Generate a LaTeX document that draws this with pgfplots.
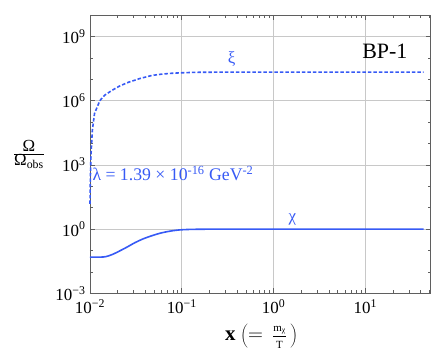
\documentclass[border=0pt]{standalone}
\usepackage{fontspec}
\setmainfont{Liberation Serif}
\usepackage{pgfplots}
\pgfplotsset{compat=1.18}
\usetikzlibrary{calc}
\definecolor{curveblue}{RGB}{55,90,245}
\definecolor{gridgray}{RGB}{200,200,200}
\definecolor{framegray}{RGB}{95,95,95}
\begin{document}
\begin{tikzpicture}
  \begin{axis}[
    name=ax,
    xmode=log, ymode=log,
    scale only axis,
    width=340.7bp, height=278.3bp,
    xmin=0.01, xmax=51.5,
    ymin=1e-3, ymax=1e10,
    xtick={0.01,0.1,1,10},
    xticklabels={10\textsuperscript{−2},10\textsuperscript{−1},10\textsuperscript{0},10\textsuperscript{1}},
    minor xtick={0.02,0.03,0.04,0.05,0.06,0.07,0.08,0.09,
                 0.2,0.3,0.4,0.5,0.6,0.7,0.8,0.9,
                 2,3,4,5,6,7,8,9,20,30,40,50},
    ytick={1e-3,1,1e3,1e6,1e9},
    yticklabels={10\textsuperscript{−3},10\textsuperscript{0},10\textsuperscript{3},10\textsuperscript{6},10\textsuperscript{9}},
    minor ytick={1e-2,1e-1,1e1,1e2,1e4,1e5,1e7,1e8},
    ticklabel style={font=\fontsize{17}{20}\selectfont},
    xticklabel style={yshift=-3bp},
    yticklabel style={xshift=-1bp},
    grid=major,
    major grid style={gridgray, line width=0.6bp},
    axis line style={framegray, line width=0.8bp},
    tick style={framegray, line width=0.6bp},
    major tick length=5bp,
    minor tick length=3bp,
    tick align=inside,
    clip=false,
  ]
    % xi (dashed)
    \addplot[curveblue, line width=1.6bp, dash pattern=on 3.5bp off 2bp] coordinates {
      (0.01,15) (0.0101,300) (0.01026,3000) (0.0106,4e4) (0.0112,2.5e5)
      (0.0128,1e6) (0.0145,1.8e6) (0.0173,3e6) (0.021,4.8e6) (0.0262,7.2e6)
      (0.035,1.08e7) (0.0472,1.5e7) (0.06,1.72e7) (0.078,1.9e7) (0.1,2.0e7)
      (0.14,2.1e7) (0.3,2.15e7) (1,2.15e7) (10,2.15e7) (43,2.15e7)};
    % chi (solid)
    \addplot[curveblue, line width=1.6bp, smooth] coordinates {
      (0.01,0.049) (0.013,0.049) (0.015,0.052) (0.0175,0.065) (0.0204,0.089)
      (0.025,0.14) (0.031,0.234) (0.038,0.35) (0.0472,0.49) (0.058,0.64)
      (0.0718,0.78) (0.085,0.87) (0.1,0.93) (0.13,0.97) (0.2,0.99)
      (0.5,1) (43,1)};
    \node[curveblue, font=\fontsize{17}{20}\selectfont] at (axis cs:0.35,9e7) {ξ};
    \node[curveblue, font=\fontsize{17}{20}\selectfont] at (axis cs:1.6,2.9) {χ};
    \node[anchor=west, inner sep=0pt, curveblue, font=\fontsize{17.8}{20}\selectfont]
      at (axis cs:0.0106,380) {λ = 1.39 × 10\textsuperscript{-16} GeV\textsuperscript{-2}};
    \node[font=\fontsize{22}{26}\selectfont] at (axis cs:16.3,2e8) {BP-1};
    \node[font=\fontsize{17}{20}\selectfont] at (rel axis cs:-0.179,0.5)
      {$\frac{\mbox{Ω}}{\mbox{Ω\textsubscript{obs}}}$};
    \node[font=\fontsize{21}{24}\selectfont] at (rel axis cs:0.503,-0.153)
      {\textbf{x} $\left(=\,\frac{\mbox{\fontsize{11}{12}\selectfont\raisebox{1.5pt}{m\textsubscript{χ}}}}{\mbox{\fontsize{11}{12}\selectfont\rule{0pt}{10pt}T}}\,\right)$};
  \end{axis}
  \path (ax.south west) ++(-90bp,-60.7bp) rectangle ($(ax.north east)+(8.3bp,15bp)$);
\end{tikzpicture}
\end{document}
